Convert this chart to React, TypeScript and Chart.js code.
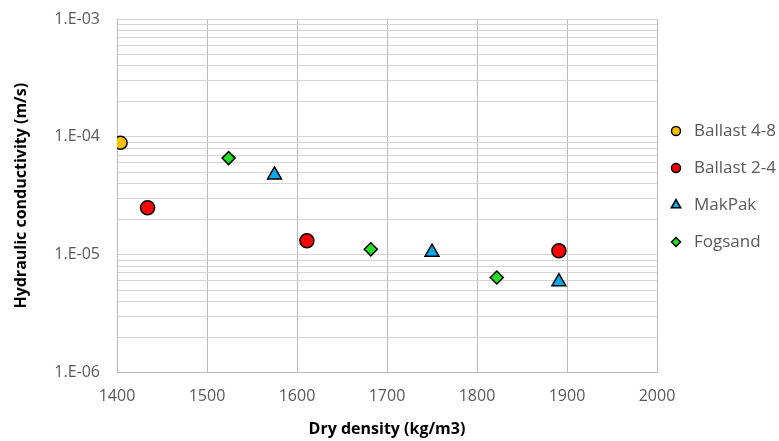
import React, { useEffect, useRef } from 'react';
import { Chart, registerables } from 'chart.js';
import { drawPoint } from 'chart.js/helpers';

Chart.register(...registerables);

// ---- data ----
const seriesNames = ['Ballast 4-8', 'Ballast 2-4', 'MakPak', 'Fogsand'];
const ballast48Density = [1404];
const ballast48K = [8.9e-5];
const ballast24Density = [1434, 1611, 1891];
const ballast24K = [2.5e-5, 1.31e-5, 1.08e-5];
const makpakDensity = [1575, 1750, 1891];
const makpakK = [4.75e-5, 1.05e-5, 5.9e-6];
const fogsandDensity = [1524, 1682, 1822];
const fogsandK = [6.6e-5, 1.11e-5, 6.4e-6];

const xTickValues = [1400, 1500, 1600, 1700, 1800, 1900, 2000];
const yDecadeExponents = [-6, -5, -4];
const yTopValue = 1e-3;
const yMantissas = [1, 2, 3, 4, 5, 6, 7, 8, 9];

const FONT = "'Open Sans', 'Liberation Sans', sans-serif";
const TICK_COLOR = '#595959';

const yTickValues: number[] = [];
yDecadeExponents.forEach((e) => {
  yMantissas.forEach((m) => {
    yTickValues.push(Number((m * Math.pow(10, e)).toPrecision(3)));
  });
});
yTickValues.push(yTopValue);

const toPoints = (xs: number[], ys: number[]) => xs.map((x, i) => ({ x, y: ys[i] }));

const formatY = (v: number) => {
  const l = Math.log10(v);
  const r = Math.round(l);
  if (Math.abs(l - r) > 1e-6) return '';
  const exp = -r;
  return '1.E-' + (exp < 10 ? '0' + exp : String(exp));
};

const legendPlugin = {
  id: 'sideLegend',
  afterDraw(chart: any) {
    const ctx = chart.ctx;
    const x0 = chart.chartArea.right + 19;
    const top = 131;
    const step = 37;
    ctx.save();
    chart.data.datasets.forEach((ds: any, i: number) => {
      const y = top + i * step;
      ctx.fillStyle = ds.pointBackgroundColor;
      ctx.strokeStyle = '#000000';
      ctx.lineWidth = 1.5;
      drawPoint(ctx, { pointStyle: ds.pointStyle, radius: ds.legendRadius, borderWidth: 1.5, rotation: 0 }, x0, y);
      ctx.fillStyle = TICK_COLOR;
      ctx.font = `17px ${FONT}`;
      ctx.textBaseline = 'middle';
      ctx.textAlign = 'left';
      ctx.fillText(ds.label, x0 + 18, y);
    });
    ctx.restore();
  },
};

export default function App() {
  const ref = useRef<HTMLCanvasElement | null>(null);

  useEffect(() => {
    if (!ref.current) return;
    const chart = new Chart(ref.current, {
      type: 'scatter',
      data: {
        datasets: [
          {
            label: seriesNames[0],
            data: toPoints(ballast48Density, ballast48K),
            pointStyle: 'circle',
            pointRadius: 6.5,
            pointBackgroundColor: '#FFC000',
            pointBorderColor: '#000000',
            pointBorderWidth: 1.5,
            legendRadius: 4.5,
          } as any,
          {
            label: seriesNames[1],
            data: toPoints(ballast24Density, ballast24K),
            pointStyle: 'circle',
            pointRadius: 7,
            pointBackgroundColor: '#FF0000',
            pointBorderColor: '#000000',
            pointBorderWidth: 1.5,
            legendRadius: 4.5,
          } as any,
          {
            label: seriesNames[2],
            data: toPoints(makpakDensity, makpakK),
            pointStyle: 'triangle',
            pointRadius: 8,
            pointBackgroundColor: '#00A8EC',
            pointBorderColor: '#000000',
            pointBorderWidth: 1.5,
            legendRadius: 5.5,
          } as any,
          {
            label: seriesNames[3],
            data: toPoints(fogsandDensity, fogsandK),
            pointStyle: 'rectRot',
            pointRadius: 6.5,
            pointBackgroundColor: '#22E022',
            pointBorderColor: '#000000',
            pointBorderWidth: 1.5,
            legendRadius: 4.5,
          } as any,
        ],
      },
      options: {
        animation: false,
        responsive: false,
        layout: { padding: { top: 19, right: 122, left: 0, bottom: 0 } },
        plugins: {
          legend: { display: false },
          tooltip: { enabled: false },
        },
        scales: {
          x: {
            type: 'linear',
            min: 1400,
            max: 2000,
            afterBuildTicks: (s: any) => {
              s.ticks = xTickValues.map((v) => ({ value: v }));
            },
            afterFit: (s: any) => {
              s.height = 68.5;
              s.paddingLeft = 0;
              s.paddingRight = 0;
            },
            ticks: {
              color: TICK_COLOR,
              font: { family: FONT, size: 16 },
              padding: 14,
              maxRotation: 0,
              callback: (v: any) => String(v),
            },
            grid: { color: '#bababa', lineWidth: 1, drawTicks: false },
            border: { color: '#bababa', width: 1 },
            title: {
              display: true,
              text: 'Dry density (kg/m3)',
              color: '#000000',
              font: { family: FONT, size: 16, weight: 'bold' },
              padding: { top: 0, bottom: 2 },
            },
          },
          y: {
            type: 'logarithmic',
            min: 1e-6,
            max: 1e-3,
            afterBuildTicks: (s: any) => {
              s.ticks = yTickValues.map((v) => ({ value: v }));
            },
            afterFit: (s: any) => {
              s.width = 117;
              s.paddingTop = 0;
              s.paddingBottom = 0;
            },
            ticks: {
              color: TICK_COLOR,
              font: { family: FONT, size: 16 },
              padding: 17,
              autoSkip: false,
              callback: (v: any) => formatY(Number(v)),
            },
            grid: { color: '#d4d4d4', lineWidth: 1, drawTicks: false },
            border: { color: '#bababa', width: 1 },
            title: {
              display: true,
              text: 'Hydraulic conductivity (m/s)',
              color: '#000000',
              font: { family: FONT, size: 16, weight: 'bold' },
              padding: { top: 12, bottom: 0 },
            },
          },
        },
      } as any,
      plugins: [legendPlugin],
    });
    return () => chart.destroy();
  }, []);

  return (
    <div style={{ position: 'absolute', left: 0, top: 0, width: 779, height: 441, background: '#ffffff' }}>
      <canvas ref={ref} width={779} height={441} style={{ display: 'block' }} />
    </div>
  );
}
